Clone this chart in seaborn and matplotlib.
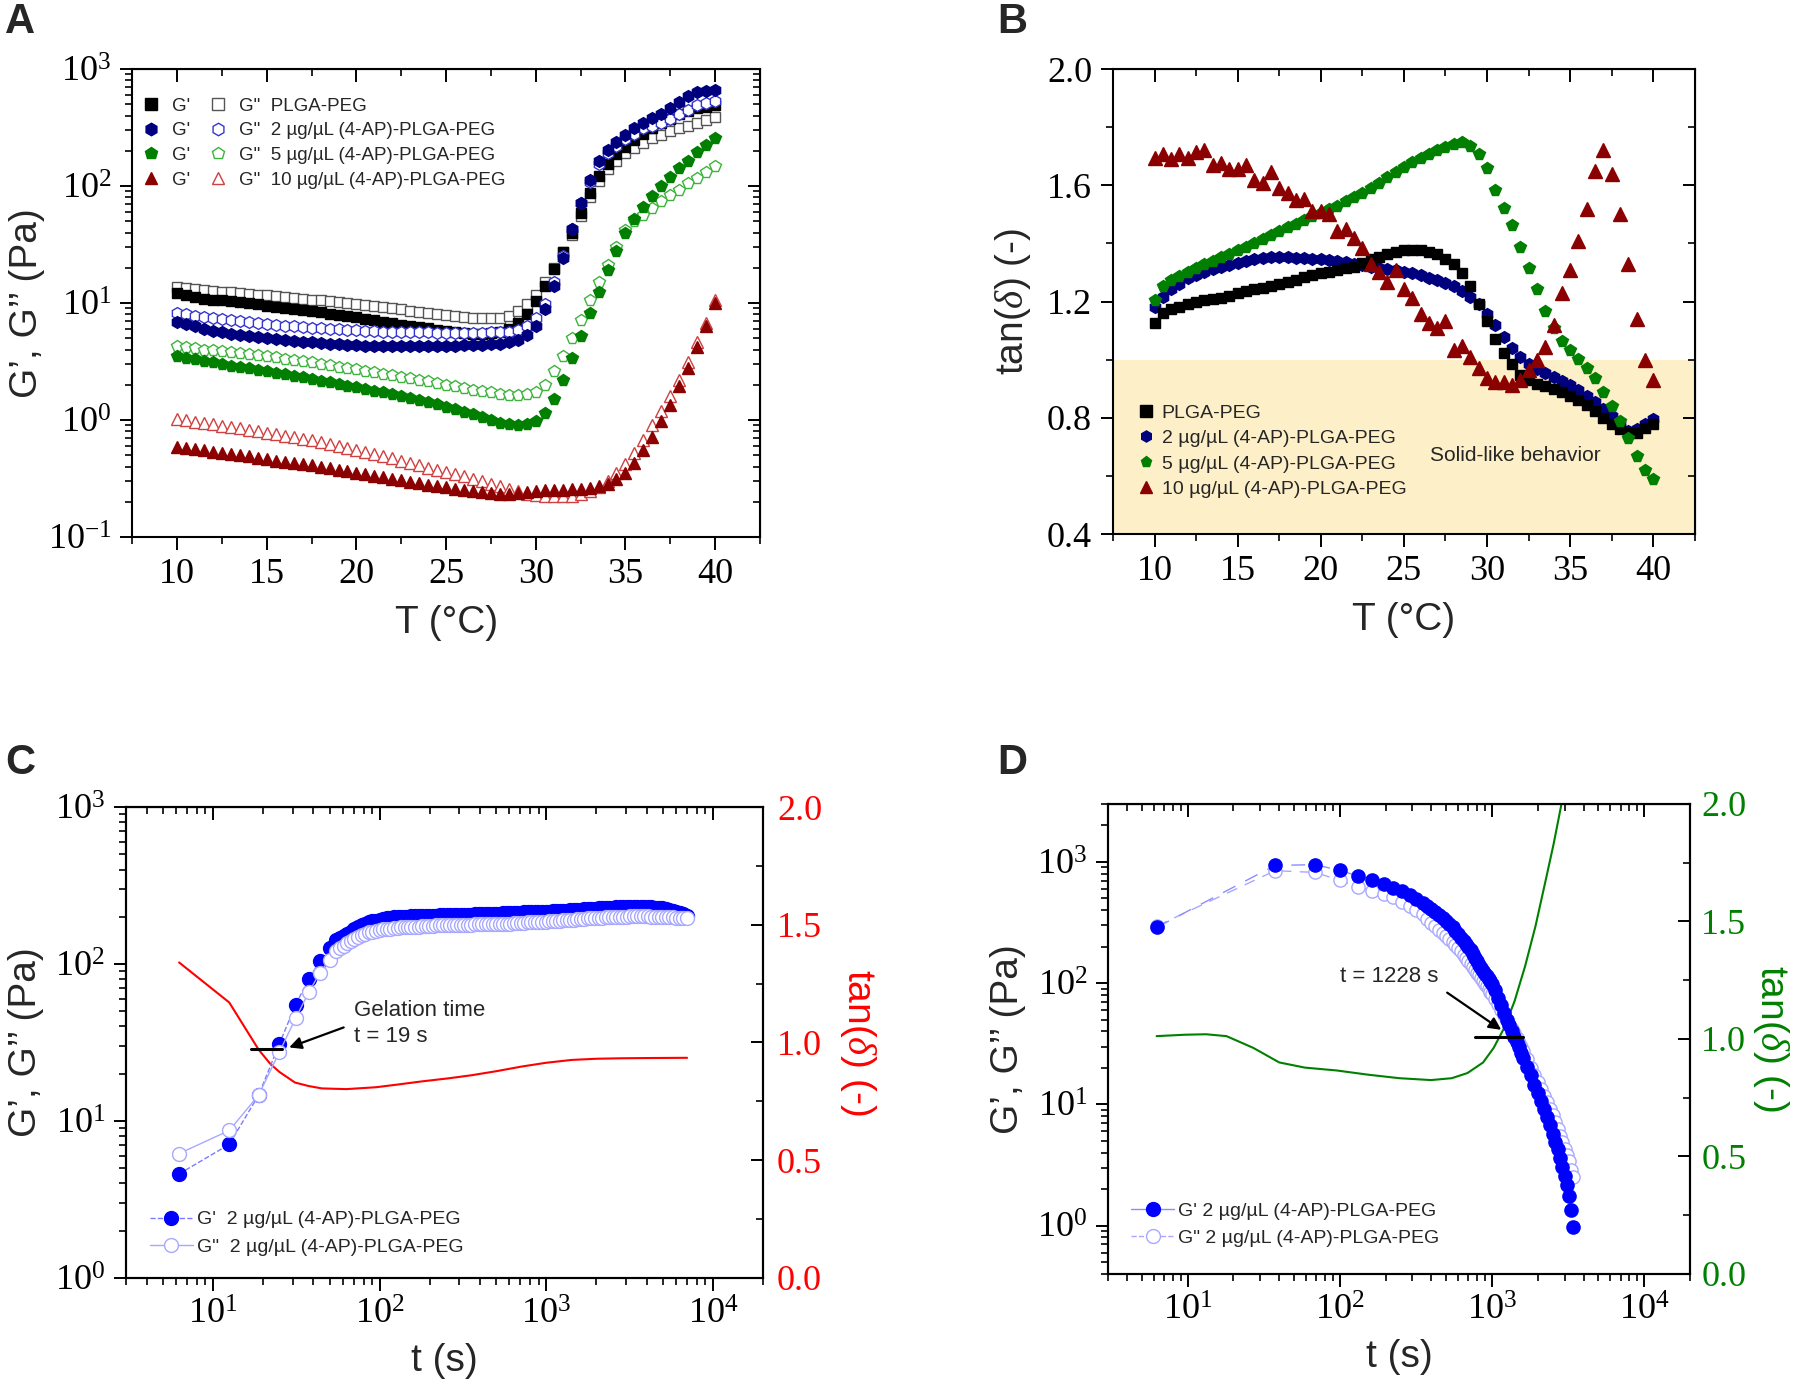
# %%
import matplotlib
matplotlib.use("Agg")
import matplotlib.pyplot as plt
import seaborn as sns
from matplotlib.lines import Line2D
from matplotlib.ticker import MultipleLocator, FormatStrFormatter, NullFormatter

# %%
# panels A / B : temperature sweep
temp = [10.0, 10.5, 11.0, 11.5, 12.0, 12.5, 13.0, 13.5, 14.0, 14.5, 15.0,
        15.5, 16.0, 16.5, 17.0, 17.5, 18.0, 18.5, 19.0, 19.5, 20.0,
        20.5, 21.0, 21.5, 22.0, 22.5, 23.0, 23.5, 24.0, 24.5, 25.0,
        25.5, 26.0, 26.5, 27.0, 27.5, 28.0, 28.5, 29.0, 29.5, 30.0,
        30.5, 31.0, 31.5, 32.0, 32.5, 33.0, 33.5, 34.0, 34.5, 35.0,
        35.5, 36.0, 36.5, 37.0, 37.5, 38.0, 38.5, 39.0, 39.5, 40.0]

samples = ["PLGA-PEG", "2 µg/µL (4-AP)-PLGA-PEG",
           "5 µg/µL (4-AP)-PLGA-PEG", "10 µg/µL (4-AP)-PLGA-PEG"]

# G' (Pa)
gp_0 = [12.1, 11.6, 11.2, 10.9, 10.7, 10.5, 10.3, 10.1, 9.9, 9.7, 9.5,
        9.3, 9.1, 8.9, 8.7, 8.5, 8.3, 8.1, 7.9, 7.7, 7.55,
        7.3, 7.1, 6.9, 6.7, 6.5, 6.35, 6.2, 6.05, 5.9, 5.75,
        5.6, 5.5, 5.45, 5.45, 5.5, 5.6, 6.0, 6.8, 8.0, 10.4,
        14, 19.6, 27.4, 40, 59, 87, 121, 155, 186, 217,
        246, 278, 310, 344, 374, 408, 439, 462, 477, 494]
gp_2 = [6.9, 6.6, 6.3, 6.0, 5.8, 5.65, 5.45, 5.35, 5.2, 5.1, 5.0,
        4.9, 4.8, 4.7, 4.65, 4.6, 4.55, 4.5, 4.45, 4.4, 4.35,
        4.3, 4.3, 4.3, 4.3, 4.3, 4.3, 4.3, 4.3, 4.3, 4.3,
        4.3, 4.35, 4.35, 4.4, 4.45, 4.5, 4.6, 4.8, 5.3, 6.4,
        8.8, 14, 24, 43, 72, 112, 162, 202, 238, 274,
        312, 348, 380, 415, 460, 520, 590, 630, 650, 665]
gp_5 = [3.5, 3.4, 3.3, 3.2, 3.1, 3.0, 2.92, 2.84, 2.76, 2.68, 2.6,
        2.52, 2.45, 2.38, 2.31, 2.24, 2.17, 2.1, 2.03, 1.96, 1.9,
        1.84, 1.78, 1.72, 1.66, 1.6, 1.54, 1.48, 1.42, 1.36, 1.3,
        1.24, 1.18, 1.12, 1.06, 1.0, 0.95, 0.92, 0.9, 0.92, 0.98,
        1.15, 1.5, 2.2, 3.4, 5.2, 8.2, 12.5, 19, 28, 40,
        52, 66, 82, 100, 120, 142, 165, 195, 225, 255]
gp_10 = [0.59, 0.58, 0.565, 0.55, 0.535, 0.52, 0.51, 0.5, 0.49, 0.475, 0.46,
         0.45, 0.44, 0.43, 0.42, 0.41, 0.395, 0.385, 0.375, 0.365, 0.355,
         0.345, 0.335, 0.325, 0.315, 0.305, 0.295, 0.287, 0.28, 0.272, 0.265,
         0.258, 0.252, 0.246, 0.24, 0.236, 0.234, 0.235, 0.238, 0.242, 0.246,
         0.25, 0.252, 0.254, 0.256, 0.258, 0.262, 0.27, 0.285, 0.31, 0.35,
         0.43, 0.55, 0.72, 0.98, 1.35, 1.95, 2.8, 4.2, 6.3, 10.0]

# G'' (Pa)
gpp_0 = [13.6, 13.3, 13.1, 12.9, 12.7, 12.5, 12.4, 12.2, 12.0, 11.8, 11.6,
         11.4, 11.2, 11.0, 10.9, 10.7, 10.5, 10.3, 10.1, 9.9, 9.8,
         9.6, 9.4, 9.2, 9.0, 8.8, 8.6, 8.4, 8.2, 8.0, 7.9,
         7.7, 7.6, 7.5, 7.4, 7.4, 7.5, 7.8, 8.5, 9.7, 11.8,
         15, 20, 27, 38, 55, 80, 110, 140, 165, 190,
         212, 235, 255, 275, 292, 310, 328, 345, 365, 385]
gpp_2 = [8.2, 8.0, 7.8, 7.6, 7.4, 7.3, 7.1, 7.0, 6.9, 6.8, 6.6,
         6.5, 6.4, 6.3, 6.2, 6.1, 6.05, 6.0, 5.95, 5.9, 5.85,
         5.8, 5.75, 5.7, 5.7, 5.65, 5.6, 5.6, 5.6, 5.55, 5.55,
         5.55, 5.55, 5.55, 5.55, 5.6, 5.6, 5.7, 5.9, 6.4, 7.4,
         9.8, 15, 25, 43, 71, 108, 154, 190, 220, 250,
         280, 310, 328, 345, 375, 410, 450, 490, 510, 530]
gpp_5 = [4.3, 4.2, 4.1, 4.0, 3.95, 3.9, 3.8, 3.72, 3.65, 3.58, 3.5,
         3.42, 3.34, 3.26, 3.18, 3.1, 3.02, 2.94, 2.86, 2.78, 2.7,
         2.63, 2.56, 2.49, 2.42, 2.35, 2.28, 2.21, 2.14, 2.07, 2.0,
         1.94, 1.88, 1.82, 1.77, 1.72, 1.68, 1.65, 1.64, 1.66, 1.75,
         2.0, 2.6, 3.5, 5.0, 7.2, 10.5, 15, 21, 30, 42,
         50, 57, 65, 75, 84, 93, 105, 118, 132, 148]
gpp_10 = [1.02, 0.99, 0.96, 0.94, 0.92, 0.89, 0.87, 0.85, 0.82, 0.8, 0.78,
          0.76, 0.73, 0.71, 0.69, 0.67, 0.645, 0.62, 0.6, 0.575, 0.55,
          0.53, 0.51, 0.49, 0.47, 0.45, 0.43, 0.41, 0.39, 0.375, 0.36,
          0.345, 0.33, 0.315, 0.3, 0.285, 0.27, 0.255, 0.245, 0.235, 0.23,
          0.225, 0.222, 0.222, 0.225, 0.232, 0.245, 0.265, 0.3, 0.35, 0.42,
          0.52, 0.68, 0.9, 1.2, 1.6, 2.2, 3.1, 4.6, 6.8, 10.5]

# tan(delta) (-)
tan_0 = [1.126, 1.16, 1.175, 1.183, 1.19, 1.197, 1.205, 1.208, 1.212, 1.22, 1.23,
         1.236, 1.242, 1.248, 1.254, 1.26, 1.266, 1.275, 1.285, 1.291, 1.297,
         1.303, 1.31, 1.315, 1.32, 1.333, 1.346, 1.355, 1.364, 1.37, 1.376,
         1.378, 1.376, 1.372, 1.362, 1.348, 1.328, 1.30, 1.254, 1.19, 1.132,
         1.07, 1.022, 0.985, 0.949, 0.93, 0.918, 0.908, 0.90, 0.888, 0.875,
         0.86, 0.845, 0.823, 0.80, 0.78, 0.76, 0.747, 0.747, 0.765, 0.78]
tan_2 = [1.18, 1.217, 1.242, 1.262, 1.28, 1.292, 1.303, 1.312, 1.32, 1.327, 1.334,
         1.34, 1.346, 1.349, 1.352, 1.352, 1.352, 1.351, 1.35, 1.348, 1.346,
         1.343, 1.34, 1.335, 1.33, 1.325, 1.32, 1.316, 1.313, 1.308, 1.303,
         1.297, 1.29, 1.282, 1.273, 1.264, 1.254, 1.238, 1.217, 1.19, 1.156,
         1.118, 1.077, 1.04, 1.01, 0.985, 0.967, 0.955, 0.942, 0.927, 0.912,
         0.894, 0.875, 0.853, 0.832, 0.805, 0.778, 0.753, 0.76, 0.778, 0.796]
tan_5 = [1.205, 1.254, 1.273, 1.288, 1.303, 1.316, 1.328, 1.34, 1.352, 1.364, 1.376,
         1.388, 1.40, 1.415, 1.43, 1.443, 1.456, 1.468, 1.48, 1.493, 1.505,
         1.518, 1.53, 1.545, 1.56, 1.575, 1.59, 1.608, 1.627, 1.645, 1.664,
         1.68, 1.694, 1.707, 1.72, 1.732, 1.743, 1.749, 1.737, 1.707, 1.658,
         1.584, 1.523, 1.462, 1.389, 1.315, 1.242, 1.169, 1.108, 1.065, 1.034,
         1.004, 0.973, 0.936, 0.888, 0.839, 0.79, 0.729, 0.668, 0.619, 0.588]
tan_10 = [1.694, 1.707, 1.69, 1.707, 1.694, 1.713, 1.72, 1.67, 1.676, 1.657, 1.657,
          1.67, 1.62, 1.609, 1.645, 1.59, 1.572, 1.548, 1.554, 1.51, 1.51,
          1.50, 1.444, 1.45, 1.42, 1.383, 1.328, 1.303, 1.266, 1.309, 1.242,
          1.211, 1.157, 1.126, 1.108, 1.132, 1.034, 1.046, 1.01, 0.973, 0.936,
          0.924, 0.924, 0.912, 0.93, 0.965, 1.0, 1.045, 1.12, 1.23, 1.31,
          1.41, 1.52, 1.65, 1.72, 1.64, 1.50, 1.33, 1.14, 1.00, 0.93]

# %%
# panel C : time sweep at gelation
t_c = [6.25, 12.5, 18.75, 25, 31.25, 37.5, 43.75, 50,
       55, 58, 61, 64, 67, 70, 74, 78, 82, 86, 90, 95, 100, 105, 110, 116,
       122, 128, 134, 141, 148, 155, 163, 171, 180, 189, 198, 208, 218, 229,
       240, 252, 265, 278, 292, 307, 322, 338, 355, 373, 392, 411, 432, 454,
       476, 500, 525, 551, 579, 608, 638, 670, 704, 739, 776, 815, 855, 898,
       943, 990, 1040, 1092, 1146, 1204, 1264, 1327, 1393, 1463, 1536, 1613,
       1694, 1778, 1867, 1961, 2059, 2162, 2270, 2383, 2502, 2627, 2759,
       2897, 3042, 3194, 3353, 3521, 3697, 3882, 4076, 4280, 4494, 4718,
       4954, 5202, 5462, 5735, 6022, 6323, 6639, 7000]
gp_c = [4.6, 7.1, 14.6, 31, 55, 80, 105, 126,
        142, 147, 151, 156, 161, 166, 171, 176, 181, 184, 187, 189, 191, 193, 195, 196,
        198, 199, 199, 200, 200, 201, 201, 202, 202, 203, 203, 203, 203, 204,
        204, 204, 205, 205, 205, 205, 206, 206, 206, 207, 207, 207, 208, 208,
        208, 209, 209, 210, 210, 211, 211, 212, 212, 213, 213, 213, 214, 214,
        215, 215, 216, 217, 217, 218, 219, 219, 220, 221, 222, 222,
        223, 224, 225, 225, 226, 227, 228, 228, 229, 230, 230,
        231, 231, 232, 232, 232, 232, 231, 231, 230, 229, 228,
        226, 223, 220, 217, 213, 210, 207, 203]
gpp_c = [6.2, 8.7, 14.6, 27.5, 45, 66, 88, 106,
         121, 126, 131, 136, 141, 145, 149, 153, 156, 159, 161, 163, 165, 166, 167, 168,
         169, 170, 171, 171, 172, 172, 173, 173, 174, 174, 175, 175, 176, 176,
         176, 177, 177, 177, 177, 178, 178, 178, 178, 179, 179, 179, 180, 180,
         180, 180, 181, 181, 181, 181, 182, 182, 183, 183, 184, 184, 185, 185,
         186, 186, 187, 188, 188, 189, 190, 190, 191, 192, 193, 193,
         194, 195, 195, 196, 197, 197, 198, 198, 199, 199, 200,
         200, 200, 201, 201, 201, 201, 201, 201, 200, 200, 200,
         199, 199, 198, 198, 197, 197, 196, 196]
t_tan_c = [6.25, 12.5, 15, 18.75, 22, 25, 31, 37.5, 45, 63, 95, 130, 180,
           260, 356, 500, 713, 1000, 1420, 2000, 2830, 4000, 7000]
tan_c = [1.34, 1.17, 1.08, 0.97, 0.91, 0.875, 0.83, 0.815, 0.805, 0.802,
         0.81, 0.822, 0.835, 0.848, 0.861, 0.878, 0.898, 0.914, 0.926,
         0.931, 0.933, 0.934, 0.935]

# %%
# panel D : time sweep, degradation
t_d = [6.25, 37.5, 68.75, 100, 131.25, 162.5, 193.75, 225, 256.25, 287.5,
       318.75, 350, 375, 400, 425, 450, 475, 500, 525, 550, 575, 600, 625,
       650, 675, 700, 725, 750, 775, 800, 825, 850, 875, 900, 925, 950, 975,
       1000, 1050, 1100, 1150, 1200, 1250, 1300, 1350, 1400, 1450, 1500,
       1550, 1600, 1700, 1800, 1900, 2000, 2100, 2200, 2300, 2400, 2500,
       2600, 2700, 2800, 2900, 3000, 3100, 3200, 3300, 3400]
gp_d = [288, 934, 948, 850, 765, 715, 656, 614, 572, 532,
        495, 462, 436, 410, 386, 362, 343, 325, 306, 288, 270, 252, 237,
        222, 210, 198, 186, 175, 162, 151, 142, 134, 127, 120, 114, 109, 104,
        99, 88, 75, 66, 57, 50, 45, 40.5, 36, 32.5, 29.5,
        26.5, 24.3, 20.5, 17.5, 14.5, 12.3, 10.6, 9.1, 7.9, 6.7, 5.7,
        4.9, 4.3, 3.6, 3.05, 2.55, 2.15, 1.75, 1.35, 0.97]
gpp_d = [295, 845, 818, 705, 622, 578, 540, 510, 470, 430,
         398, 368, 340, 313, 293, 275, 260, 245, 231, 218, 206, 195, 183,
         172, 162, 153, 145, 137, 129, 122, 116, 110, 104, 99, 94, 89, 85,
         81, 74, 67, 60, 54.5, 49.5, 45.5, 42, 38.5, 35, 32,
         29.5, 27.5, 23.5, 20, 17.5, 15.2, 13.3, 11.8, 10.4, 9.2, 8.1,
         7.1, 6.3, 5.5, 4.9, 4.3, 3.8, 3.4, 2.9, 2.5]
t_tan_d = [6.25, 9.6, 13.2, 18, 27, 40, 59, 95, 153, 246, 397, 544, 690,
           874, 1025, 1200, 1405, 1650, 1930, 2260, 2540, 2860, 3100]
tan_d = [1.012, 1.018, 1.02, 1.012, 0.962, 0.90, 0.878, 0.866, 0.848,
         0.833, 0.825, 0.833, 0.855, 0.90, 0.962, 1.046, 1.16, 1.31, 1.48,
         1.68, 1.83, 2.0, 2.15]

# %%
sns.set_style("ticks")
plt.rcParams['font.family'] = ['Liberation Serif', 'DejaVu Serif']
plt.rcParams['mathtext.fontset'] = 'custom'
plt.rcParams['mathtext.rm'] = 'Liberation Serif'
plt.rcParams['mathtext.it'] = 'Liberation Serif:italic'
plt.rcParams['axes.edgecolor'] = 'black'
plt.rcParams['xtick.color'] = 'black'
plt.rcParams['ytick.color'] = 'black'
SANS = ['Liberation Sans', 'DejaVu Sans']

TICK = 26
LAB = 28


def marks(ax, x, y, color, marker, size, hollow=False, edge=None, lw=0, lc=None,
          ls='-', mew=1.0, z=2):
    sns.lineplot(x=x, y=y, ax=ax, sort=False, legend=False, errorbar=None,
                 color=lc if lc else color, linewidth=lw,
                 linestyle=ls if lw else '', marker=marker, markersize=size,
                 markerfacecolor='white' if hollow else color,
                 markeredgecolor=edge if edge else color,
                 markeredgewidth=mew, zorder=z)


def frame(ax, right=True, xmaj=None, xmin=None, ymaj=None, ymin=None):
    for s in ax.spines.values():
        s.set_linewidth(1.5)
        s.set_color('black')
    ax.tick_params(which='major', direction='out', length=9, width=1.4,
                   labelsize=TICK, pad=6)
    ax.tick_params(which='minor', direction='out', length=5, width=1.2)
    if xmaj:
        ax.xaxis.set_major_locator(MultipleLocator(xmaj))
        ax.xaxis.set_minor_locator(MultipleLocator(xmin))
    if ymaj:
        ax.yaxis.set_major_locator(MultipleLocator(ymaj))
        ax.yaxis.set_minor_locator(MultipleLocator(ymin))
    top = ax.secondary_xaxis('top')
    top.tick_params(which='major', direction='in', length=9, width=1.4)
    top.tick_params(which='minor', direction='in', length=5, width=1.2)
    if xmaj:
        top.xaxis.set_major_locator(MultipleLocator(xmaj))
        top.xaxis.set_minor_locator(MultipleLocator(xmin))
    top.xaxis.set_major_formatter(NullFormatter())
    top.xaxis.set_minor_formatter(NullFormatter())
    if right:
        rt = ax.secondary_yaxis('right')
        rt.tick_params(which='major', direction='in', length=9, width=1.4)
        rt.tick_params(which='minor', direction='in', length=5, width=1.2)
        if ymaj:
            rt.yaxis.set_major_locator(MultipleLocator(ymaj))
            rt.yaxis.set_minor_locator(MultipleLocator(ymin))
        rt.yaxis.set_major_formatter(NullFormatter())
        rt.yaxis.set_minor_formatter(NullFormatter())


fig = plt.figure(figsize=(18, 13.9), dpi=100)

# %%
# A
axA = fig.add_axes([0.0735, 0.6137, 0.3487, 0.3367])
axA.set_yscale('log')
styleA = [
    (gp_0, gpp_0, '#000000', '#555555', 's', 7.5),
    (gp_2, gpp_2, '#00007F', '#3535D0', 'h', 8.5),
    (gp_5, gpp_5, '#007F00', '#3CB43C', 'p', 8.5),
    (gp_10, gpp_10, '#8B0000', '#D04040', '^', 8.5),
]
for gp, gpp, col, ocol, mk, ms in styleA:
    marks(axA, temp, gpp, ocol, mk, ms, hollow=True, mew=1.0)
    marks(axA, temp, gp, col, mk, ms)
axA.set_xlim(7.5, 42.5)
axA.set_ylim(0.1, 1000)
frame(axA, xmaj=5, xmin=2.5)
axA.set_xlabel("T (°C)", fontsize=LAB, family=SANS, labelpad=10)
axA.set_ylabel("G’, G’’ (Pa)", fontsize=LAB, family=SANS, labelpad=2)

hA = [Line2D([], [], ls='', marker=m, ms=9, color=c, mec=c) for _, _, c, _, m, _ in styleA]
hA += [Line2D([], [], ls='', marker=m, ms=9, mfc='white', mec=oc, mew=1.0)
       for _, _, _, oc, m, _ in styleA]
labA = ["G'"] * 4 + ['G"  ' + s for s in samples]
axA.legend(hA, labA, ncol=2, loc='upper left', bbox_to_anchor=(-0.015, 0.975),
           frameon=False, prop=dict(family=SANS, size=13.5), columnspacing=0.9,
           handletextpad=0.5, labelspacing=0.4, handlelength=1.2)

# %%
# B
axB = fig.add_axes([0.6183, 0.6158, 0.3233, 0.3345])
axB.axhspan(0.4, 1.0, color='#FDEFC8', zorder=0, lw=0)
styleB = [
    (tan_2, '#00007F', 'h', 8.5),
    (tan_0, '#000000', 's', 7.5),
    (tan_5, '#007F00', 'p', 8.5),
    (tan_10, '#8B0000', '^', 10.5),
]
for tn, col, mk, ms in styleB:
    marks(axB, temp, tn, col, mk, ms)
axB.set_xlim(7.5, 42.5)
axB.set_ylim(0.4, 2.0)
frame(axB, xmaj=5, xmin=2.5, ymaj=0.4, ymin=0.2)
axB.yaxis.set_major_formatter(FormatStrFormatter('%.1f'))
axB.set_xlabel("T (°C)", fontsize=LAB, family=SANS, labelpad=10)
axB.set_ylabel(r"tan($\delta$) (-)", fontsize=LAB, family=SANS, labelpad=10)
axB.text(31.7, 0.67, "Solid-like behavior", fontsize=15, family=SANS,
         ha='center', va='center')
orderB = [1, 0, 2, 3]
hB = [Line2D([], [], ls='', marker=styleB[i][2], ms=8, color=styleB[i][1]) for i in orderB]
axB.legend(hB, samples, loc='lower left', bbox_to_anchor=(0.01, 0.04),
           frameon=False, prop=dict(family=SANS, size=14),
           handletextpad=0.3, labelspacing=0.4, handlelength=1.0)

# %%
# C
axC = fig.add_axes([0.0700, 0.0806, 0.3539, 0.3388])
axC2 = axC.twinx()
axC.set_zorder(axC2.get_zorder() + 1)
axC.patch.set_visible(False)
axC.set_xscale('log')
axC.set_yscale('log')
sns.lineplot(x=t_tan_c, y=tan_c, ax=axC2, color='#FF0000', linewidth=1.5, sort=False)
marks(axC, t_c, gp_c, '#0000FF', 'o', 10, lw=1.0, lc='#7B7BFF', ls='--')
marks(axC, t_c, gpp_c, '#A8A8FF', 'o', 10, hollow=True, lw=1.0, lc='#A8A8FF', mew=1.0)
axC.set_xlim(3, 2e4)
axC.set_ylim(1, 1000)
axC2.set_ylim(0, 2.0)
frame(axC, right=False)
axC.set_xlabel("t (s)", fontsize=LAB, family=SANS, labelpad=8)
axC.set_ylabel("G’, G’’ (Pa)", fontsize=LAB, family=SANS, labelpad=8)
axC2.yaxis.set_major_locator(MultipleLocator(0.5))
axC2.yaxis.set_minor_locator(MultipleLocator(0.25))
axC2.yaxis.set_major_formatter(FormatStrFormatter('%.1f'))
axC2.tick_params(which='major', direction='in', length=9, width=1.4,
                 labelsize=TICK, labelcolor='#FF0000', pad=10)
axC2.tick_params(which='minor', direction='in', length=5, width=1.2)
axC2.set_ylabel(r"tan($\delta$) (-)", fontsize=LAB, family=SANS, color='#FF0000',
                rotation=270, labelpad=40)
for s in axC2.spines.values():
    s.set_linewidth(1.5)
    s.set_color('black')
axC.plot([17, 25.8], [28.7, 28.7], color='black', lw=2.2)
axC.annotate("", xy=(27.6, 29), xytext=(63, 40),
             arrowprops=dict(arrowstyle='-|>', color='black', lw=1.6, mutation_scale=18))
axC.text(70, 42, "Gelation time\nt = 19 s", fontsize=16, family=SANS,
         ha='left', va='center', linespacing=1.3)
hC = [Line2D([], [], color='#7B7BFF', lw=1.0, ls='--', marker='o', ms=10, mfc='#0000FF', mec='#0000FF'),
      Line2D([], [], color='#A8A8FF', lw=1.0, marker='o', ms=10, mfc='white', mec='#A8A8FF')]
axC.legend(hC, ["G'  " + samples[1], 'G"  ' + samples[1]], loc='lower left',
           bbox_to_anchor=(0.01, 0.01), frameon=False,
           prop=dict(family=SANS, size=14), handletextpad=0.2, labelspacing=0.5,
           handlelength=2.2)

# %%
# D
axD = fig.add_axes([0.6156, 0.0835, 0.3233, 0.3381])
axD2 = axD.twinx()
axD.set_zorder(axD2.get_zorder() + 1)
axD.patch.set_visible(False)
axD.set_xscale('log')
axD.set_yscale('log')
sns.lineplot(x=t_tan_d, y=tan_d, ax=axD2, color='#008000', linewidth=1.5, sort=False)
marks(axD, t_d, gpp_d, '#A8A8FF', 'o', 9.5, hollow=True, lw=1.0, lc='#A8A8FF',
      ls=(0, (8, 6)), mew=1.0)
marks(axD, t_d, gp_d, '#0000FF', 'o', 9.5, lw=1.0, lc='#8C8CFF', ls=(0, (10, 8)))
axD.set_xlim(3, 2e4)
axD.set_ylim(0.4, 3000)
axD2.set_ylim(0, 2.0)
frame(axD, right=False)
axD.set_xlabel("t (s)", fontsize=LAB, family=SANS, labelpad=8)
axD.set_ylabel("G’, G’’ (Pa)", fontsize=LAB, family=SANS, labelpad=8)
axD2.yaxis.set_major_locator(MultipleLocator(0.5))
axD2.yaxis.set_minor_locator(MultipleLocator(0.25))
axD2.yaxis.set_major_formatter(FormatStrFormatter('%.1f'))
axD2.tick_params(which='major', direction='in', length=9, width=1.4,
                 labelsize=TICK, labelcolor='#008000', pad=8)
axD2.tick_params(which='minor', direction='in', length=5, width=1.2)
axD2.set_ylabel(r"tan($\delta$) (-)", fontsize=LAB, family=SANS, color='#008000',
                rotation=270, labelpad=32)
for s in axD2.spines.values():
    s.set_linewidth(1.5)
    s.set_color('black')
axD.plot([778, 1607], [36.2, 36.2], color='black', lw=2.2)
axD.annotate("", xy=(1190, 40), xytext=(490, 86),
             arrowprops=dict(arrowstyle='-|>', color='black', lw=1.6, mutation_scale=18))
axD.text(100, 113, "t = 1228 s", fontsize=16, family=SANS, ha='left', va='center')
hD = [Line2D([], [], color='#8C8CFF', lw=1.0, marker='o', ms=10, mfc='#0000FF', mec='#0000FF'),
      Line2D([], [], color='#A8A8FF', lw=1.0, ls='--', marker='o', ms=10, mfc='white', mec='#A8A8FF')]
axD.legend(hD, ["G' " + samples[1], 'G" ' + samples[1]], loc='lower left',
           bbox_to_anchor=(0.01, 0.02), frameon=False,
           prop=dict(family=SANS, size=14), handletextpad=0.2, labelspacing=0.5,
           handlelength=2.2)

# %%
# panel letters
for letter, x, y in [("A", 0.003, 0.984), ("B", 0.554, 0.984),
                     ("C", 0.003, 0.451), ("D", 0.554, 0.451)]:
    fig.text(x, y, letter, fontsize=30, fontweight='bold', family=SANS,
             ha='left', va='center')

fig.savefig("out.png", dpi=100)
